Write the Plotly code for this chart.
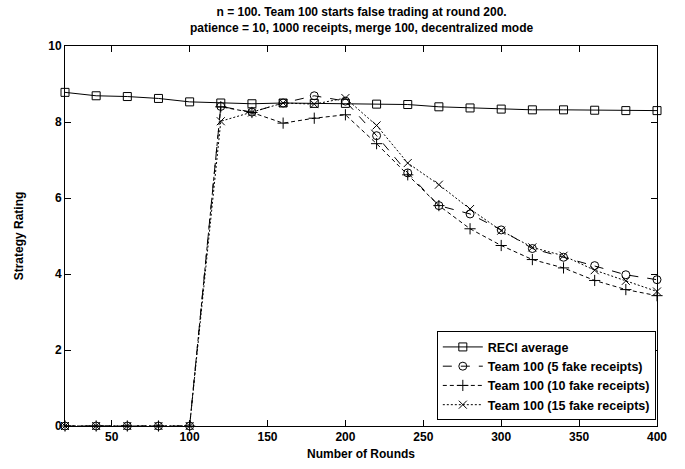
import plotly.graph_objects as go

rounds = [20, 40, 60, 80, 100, 120, 140, 160, 180, 200, 220, 240, 260, 280, 300, 320, 340, 360, 380, 400]
reci_avg = [8.78, 8.69, 8.67, 8.62, 8.53, 8.50, 8.48, 8.50, 8.49, 8.49, 8.47, 8.46, 8.40, 8.37, 8.34, 8.32, 8.32, 8.31, 8.30, 8.30]
fake5 = [0, 0, 0, 0, 0, 8.41, 8.26, 8.50, 8.69, 8.55, 7.64, 6.66, 5.80, 5.58, 5.16, 4.67, 4.44, 4.22, 3.98, 3.85]
fake10 = [0, 0, 0, 0, 0, 8.40, 8.25, 7.97, 8.10, 8.19, 7.43, 6.61, 5.80, 5.19, 4.75, 4.38, 4.16, 3.83, 3.59, 3.43]
fake15 = [0, 0, 0, 0, 0, 8.02, 8.25, 8.50, 8.47, 8.63, 7.91, 6.92, 6.35, 5.71, 5.14, 4.70, 4.48, 4.10, 3.82, 3.54]

x_ticks = [50, 100, 150, 200, 250, 300, 350, 400]
y_ticks = [0, 2, 4, 6, 8, 10]

title_lines = ["n = 100. Team 100 starts false trading at round 200.",
               "patience = 10, 1000 receipts, merge 100, decentralized mode"]

FONT = "Liberation Sans, Arial, sans-serif"

series = [
    ("RECI average", reci_avg, "solid", "square-open"),
    ("Team 100 (5 fake receipts)", fake5, "dash", "circle-open"),
    ("Team 100 (10 fake receipts)", fake10, "4px,3px", "cross-thin-open"),
    ("Team 100 (15 fake receipts)", fake15, "2px,2px", "x-thin-open"),
]

fig = go.Figure()
for name, vals, dash, sym in series:
    fig.add_trace(go.Scatter(
        x=rounds, y=vals, name=name, mode="lines+markers",
        line=dict(color="black", width=1, dash=dash),
        marker=dict(symbol=sym, size=8, color="black", line=dict(color="black", width=1)),
        cliponaxis=False,
    ))

W, H = 685, 469
ML, MR, MT, MB = 65, 28, 46, 43
fig.add_annotation(
    text="<br>".join(title_lines), xref="paper", x=0.5, xanchor="center",
    yref="paper", y=1 + (MT - 20.5) / (H - MT - MB), yanchor="middle",
    showarrow=False, align="center",
    font=dict(family=FONT, size=12, color="black", weight="bold"),
)

fig.update_layout(
    width=W, height=H,
    paper_bgcolor="white", plot_bgcolor="white",
    margin=dict(l=ML, r=MR, t=MT, b=MB),
    font=dict(family=FONT, size=12, color="black", weight="bold"),
    showlegend=True,
    legend=dict(x=0.998, xanchor="right", y=0.015, yanchor="bottom",
                bgcolor="white", bordercolor="black", borderwidth=1,
                font=dict(family=FONT, size=12.5, color="black", weight="bold"),
                tracegroupgap=0, itemwidth=40),
)
fig.update_xaxes(
    range=[20, 400], tickvals=x_ticks, ticktext=[str(v) for v in x_ticks],
    ticks="inside", ticklen=6, tickcolor="black", showline=True, linecolor="black",
    linewidth=1, mirror="ticks", showgrid=False, zeroline=False, automargin=False,
    title=dict(text="Number of Rounds", standoff=6,
               font=dict(family=FONT, size=12, weight="bold")),
)
fig.update_yaxes(
    range=[0, 10], tickvals=y_ticks, ticktext=[str(v) for v in y_ticks],
    ticks="inside", ticklen=6, tickcolor="black", showline=True, linecolor="black",
    linewidth=1, mirror="ticks", showgrid=False, zeroline=False, automargin=False,
    title=dict(text="Strategy Rating", standoff=22,
               font=dict(family=FONT, size=12, weight="bold")),
)

fig.write_html("out.html", config={"displayModeBar": False},
               post_script="document.body.style.margin='0';")
